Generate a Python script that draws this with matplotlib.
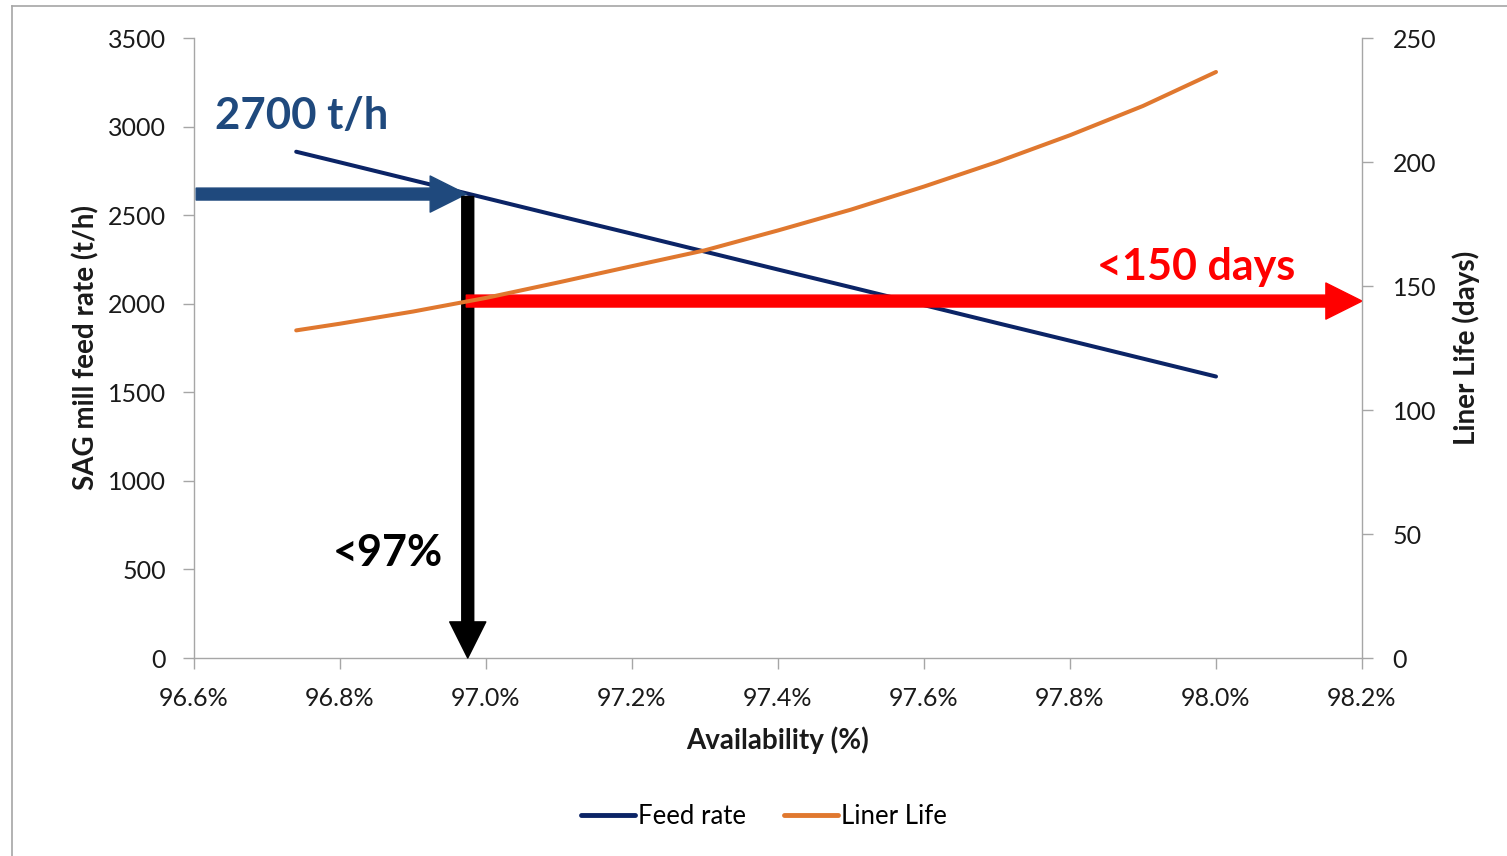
import numpy as np
import matplotlib
matplotlib.use("Agg")
import matplotlib.pyplot as plt
from matplotlib.patches import FancyArrowPatch, ArrowStyle
from matplotlib.lines import Line2D

plt.rcParams["font.family"] = ["Lato", "DejaVu Sans"]

# availability (%) vs SAG mill feed rate (t/h) and liner life (days)
availability = [96.74, 96.8, 96.9, 97.0, 97.1, 97.2, 97.3, 97.4, 97.5, 97.6, 97.7, 97.8, 97.9, 98.0]
feed_rate = [2858, 2798, 2697, 2596, 2495, 2395, 2294, 2193, 2093, 1992, 1891, 1791, 1690, 1589]
liner_life = [132.1, 134.8, 139.7, 145.2, 151.5, 158.0, 164.4, 172.4, 180.8, 190.1, 200.0, 210.8, 222.6, 236.3]

x_ticks = [96.6, 96.8, 97.0, 97.2, 97.4, 97.6, 97.8, 98.0, 98.2]
left_ticks = [0, 500, 1000, 1500, 2000, 2500, 3000, 3500]
right_ticks = [0, 50, 100, 150, 200, 250]

# target markers drawn on top of the chart
target_avail = 96.973
target_feed = 2619
limit_feed = 2015

NAVY = "#0B2466"
ORANGE = "#E0782F"
GRID = "#A6A6A6"
TXT = "#1a1a1a"

fig = plt.figure(figsize=(15.07, 8.56), dpi=100)
ax = fig.add_axes([194 / 1507, 1 - 658 / 856, (1362 - 194) / 1507, (658 - 38) / 856])
ax2 = ax.twinx()

ax.plot(availability, feed_rate, color=NAVY, lw=2.9, solid_capstyle="round", label="Feed rate", zorder=3)
ax2.plot(availability, liner_life, color=ORANGE, lw=2.9, solid_capstyle="round", label="Liner Life", zorder=3)

ax.set_xlim(96.6, 98.2)
ax.set_ylim(0, 3500)
ax2.set_ylim(0, 250)
ax.set_xticks(x_ticks)
ax.set_xticklabels([f"{v:.1f}%" for v in x_ticks])
ax.set_yticks(left_ticks)
ax2.set_yticks(right_ticks)

for a in (ax, ax2):
    a.spines["top"].set_visible(False)
    for s in ("left", "right", "bottom"):
        a.spines[s].set_color(GRID)
        a.spines[s].set_linewidth(1.0)
    a.tick_params(colors=GRID, labelcolor=TXT, labelsize=18, length=8, width=1.0)
ax.tick_params(axis="x", pad=13)
ax.tick_params(axis="y", pad=12)
ax2.tick_params(axis="y", pad=14)
ax.spines["right"].set_visible(False)
ax2.spines["left"].set_visible(False)
ax2.spines["bottom"].set_visible(False)

ax.set_xlabel("Availability (%)", fontsize=20, fontweight="bold", color=TXT, labelpad=12)
ax.set_ylabel("SAG mill feed rate (t/h)", fontsize=20, fontweight="bold", color=TXT, labelpad=6)
ax2.set_ylabel("Liner Life (days)", fontsize=20, fontweight="bold", color=TXT, labelpad=12)

# arrows (sizes in points)
def big_arrow(p0, p1, color):
    style = ArrowStyle.Simple(head_length=26, head_width=26, tail_width=8.6)
    arr = FancyArrowPatch(p0, p1, arrowstyle=style, mutation_scale=1, color=color,
                          shrinkA=0, shrinkB=0, transform=ax.transData, clip_on=False, zorder=5)
    ax.add_patch(arr)

big_arrow((96.603, target_feed), (target_avail, target_feed), "#1F497D")
big_arrow((target_avail + 0.002, 2605), (target_avail + 0.002, 0), "black")
big_arrow((target_avail, limit_feed), (98.2, limit_feed), "#FF0000")

ax.text(96.629, 3060, "2700 t/h", fontsize=31.5, fontweight="bold", color="#1F497D", va="center", ha="left", zorder=6)
ax.text(96.79, 590, "<97%", fontsize=31, fontweight="bold", color="black", va="center", ha="left", zorder=6)
ax.text(97.837, 2205, "<150 days", fontsize=31, fontweight="bold", color="#FF0000", va="center", ha="left", zorder=6)

handles = [Line2D([], [], color=NAVY, lw=3.5, solid_capstyle="round"),
           Line2D([], [], color=ORANGE, lw=3.5, solid_capstyle="round")]
fig.legend(handles, ["Feed rate", "Liner Life"], loc="center", bbox_to_anchor=(764 / 1507, 1 - 816 / 856),
           ncol=2, frameon=False, fontsize=18.5, handlelength=2.1, handletextpad=0.1, columnspacing=1.5)

# outer chart border
fig.add_artist(Line2D([12 / 1507, 12 / 1507], [0, 1 - 6 / 856], transform=fig.transFigure, color=GRID, lw=1.2))
fig.add_artist(Line2D([12 / 1507, 1], [1 - 6 / 856, 1 - 6 / 856], transform=fig.transFigure, color=GRID, lw=1.2))

fig.savefig("out.png", dpi=100)
